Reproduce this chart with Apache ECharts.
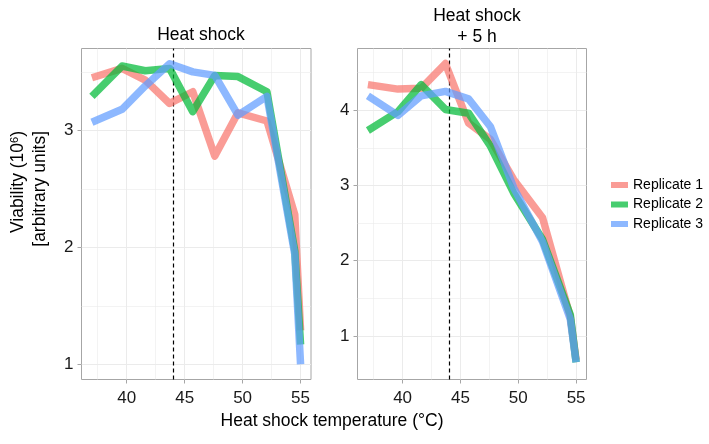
<!DOCTYPE html>
<html>
<head>
<meta charset="utf-8">
<script src="https://cdn.jsdelivr.net/npm/echarts@6/dist/echarts.min.js"></script>
<style>html,body{margin:0;padding:0;background:#fff}#c{width:709px;height:444px}</style>
</head>
<body>
<div id="c"></div>
<script>
// ---- data ----
var temps = [37, 39.6, 41.6, 43.7, 45.7, 47.6, 49.6, 52.1, 54.5, 55];
var replicates = ['Replicate 1', 'Replicate 2', 'Replicate 3'];
var hsRep1 = [3.45, 3.53, 3.43, 3.23, 3.33, 2.78, 3.15, 3.08, 2.28, 1.29];
var hsRep2 = [3.29, 3.55, 3.51, 3.53, 3.16, 3.47, 3.46, 3.33, 1.97, 1.17];
var hsRep3 = [3.07, 3.18, 3.38, 3.57, 3.50, 3.47, 3.13, 3.29, 1.94, 1.00];
var hs5Rep1 = [4.34, 4.28, 4.29, 4.62, 3.83, 3.61, 3.08, 2.57, 1.25, 0.68];
var hs5Rep2 = [3.73, 3.98, 4.34, 4.01, 3.96, 3.52, 2.90, 2.28, 1.28, 0.65];
var hs5Rep3 = [4.19, 3.93, 4.19, 4.25, 4.15, 3.78, 2.97, 2.25, 1.22, 0.65];
var xTicks = [40, 45, 50, 55];
var xMinorTicks = [37.5, 42.5, 47.5, 52.5];
var yTicksLeft = [1, 2, 3];
var yMinorLeft = [1.5, 2.5, 3.5];
var yTicksRight = [1, 2, 3, 4];
var yMinorRight = [1.5, 2.5, 3.5, 4.5];
var referenceTemp = 44;
var panelTitles = ['Heat shock', 'Heat shock\n+ 5 h'];

// ---- style ----
var colors = ['rgba(248,118,109,0.72)', 'rgba(0,186,56,0.72)', 'rgba(97,156,255,0.72)'];
var FONT = 'Liberation Sans, Arial, sans-serif';
var gridColor = '#ebebeb';
var borderColor = '#a6a6a6';

function pairs(vals) { return temps.map(function (t, i) { return [t, vals[i]]; }); }

function xAxisDef(idx) {
  return {
    type: 'value', gridIndex: idx, min: 36.1, max: 55.9, splitNumber: 4,
    axisLine: { show: false },
    axisTick: { show: true, customValues: xTicks, length: 4, lineStyle: { color: borderColor, width: 1 } },
    axisLabel: {
      customValues: xTicks, color: '#1a1a1a', fontSize: 17, fontFamily: FONT, margin: 10,
      formatter: function (v) { return xTicks.indexOf(v) >= 0 ? String(v) : ''; }
    },
    splitLine: { show: true, lineStyle: { color: gridColor, width: 1 } }
  };
}
function yAxisDef(idx, min, max, ticks, split) {
  return {
    type: 'value', gridIndex: idx, min: min, max: max, splitNumber: split,
    axisLine: { show: false },
    axisTick: { show: true, customValues: ticks, length: 4, lineStyle: { color: borderColor, width: 1 } },
    axisLabel: {
      customValues: ticks, color: '#1a1a1a', fontSize: 17, fontFamily: FONT, margin: 8,
      formatter: function (v) { return ticks.indexOf(v) >= 0 ? String(v) : ''; }
    },
    splitLine: { show: true, lineStyle: { color: gridColor, width: 1 } }
  };
}

function minorSeries(idx, yMinor) {
  return {
    type: 'line', xAxisIndex: idx, yAxisIndex: idx, data: [], z: 1, silent: true,
    markLine: {
      silent: true, symbol: 'none', animation: false, label: { show: false },
      lineStyle: { color: gridColor, width: 0.6, type: 'solid' },
      data: xMinorTicks.map(function (v) { return { xAxis: v }; })
        .concat(yMinor.map(function (v) { return { yAxis: v }; }))
    }
  };
}
function refSeries(idx) {
  return {
    type: 'line', xAxisIndex: idx, yAxisIndex: idx, data: [], z: 10, silent: true,
    markLine: {
      silent: true, symbol: 'none', animation: false, label: { show: false },
      lineStyle: { color: '#000', width: 1.2, type: [4, 3] },
      data: [{ xAxis: referenceTemp }]
    }
  };
}
function dataSeries(idx, name, vals, color) {
  return {
    name: name, type: 'line', xAxisIndex: idx, yAxisIndex: idx, data: pairs(vals),
    showSymbol: false, symbol: 'none', z: 5, animation: false,
    itemStyle: { color: color },
    lineStyle: { color: color, width: 7.5, cap: 'butt', join: 'round' }
  };
}

var chart = echarts.init(document.getElementById('c'), null, { renderer: 'canvas' });
chart.setOption({
  animation: false,
  backgroundColor: '#fff',
  textStyle: { fontFamily: FONT },
  grid: [
    { left: 81.5, top: 48.5, width: 229.5, height: 331, show: true, borderColor: borderColor, borderWidth: 1, backgroundColor: 'transparent' },
    { left: 357.5, top: 48.5, width: 229, height: 331, show: true, borderColor: borderColor, borderWidth: 1, backgroundColor: 'transparent' }
  ],
  title: [
    { text: panelTitles[0], left: 196, top: 21, textAlign: 'center', textStyle: { fontSize: 17.5, fontWeight: 'normal', color: '#000', fontFamily: FONT } },
    { text: panelTitles[1], left: 472, top: 0, textAlign: 'center', textStyle: { fontSize: 17.5, fontWeight: 'normal', color: '#000', fontFamily: FONT, lineHeight: 21.5 } }
  ],
  legend: {
    orient: 'vertical', left: 606, top: 173, itemWidth: 17, itemHeight: 6, itemGap: 5.5, icon: 'rect',
    textStyle: { fontSize: 14, color: '#000', fontFamily: FONT, padding: [0, 0, 0, 0] },
    data: replicates.map(function (r, i) { return { name: r, itemStyle: { color: colors[i] } }; })
  },
  xAxis: [xAxisDef(0), xAxisDef(1)],
  yAxis: [yAxisDef(0, 0.87, 3.70, yTicksLeft, 3), yAxisDef(1, 0.42, 4.82, yTicksRight, 4)],
  series: [
    minorSeries(0, yMinorLeft), minorSeries(1, yMinorRight),
    dataSeries(0, replicates[0], hsRep1, colors[0]),
    dataSeries(0, replicates[1], hsRep2, colors[1]),
    dataSeries(0, replicates[2], hsRep3, colors[2]),
    dataSeries(1, replicates[0], hs5Rep1, colors[0]),
    dataSeries(1, replicates[1], hs5Rep2, colors[1]),
    dataSeries(1, replicates[2], hs5Rep3, colors[2]),
    refSeries(0), refSeries(1)
  ],
  graphic: [
    { type: 'text', x: 18, y: 131, rotation: Math.PI / 2,
      style: { text: 'Viability (10{sup|6})', fontSize: 17.5, fontFamily: FONT, fill: '#000', align: 'right', verticalAlign: 'middle',
        rich: { sup: { fontSize: 11, fontFamily: FONT, fill: '#000', verticalAlign: 'top', padding: [0, 0, 6, 0] } } } },
    { type: 'text', x: 40, y: 131, rotation: Math.PI / 2,
      style: { text: '[arbitrary units]', fontSize: 17.5, fontFamily: FONT, fill: '#000', align: 'right', verticalAlign: 'middle' } },
    { type: 'text', x: 332, y: 421,
      style: { text: 'Heat shock temperature (°C)', fontSize: 17.5, fontFamily: FONT, fill: '#000', align: 'center', verticalAlign: 'middle' } }
  ]
});
</script>
</body>
</html>
